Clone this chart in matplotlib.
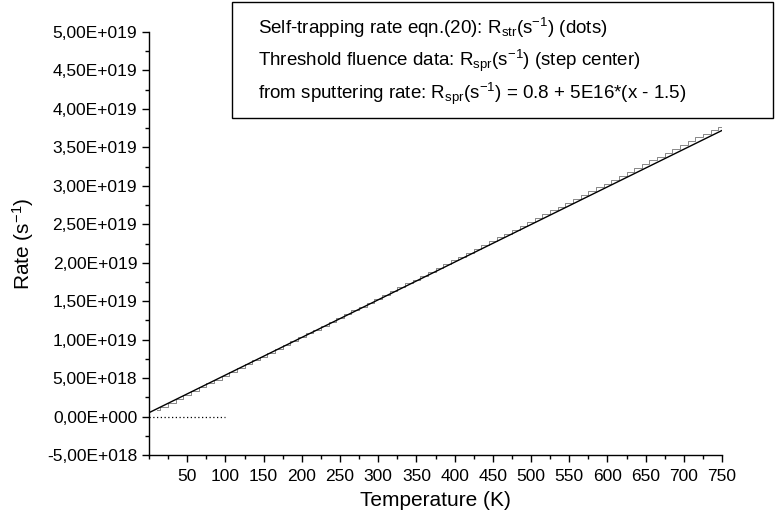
import matplotlib
matplotlib.use("Agg")
import matplotlib.pyplot as plt
from matplotlib.ticker import FuncFormatter, MultipleLocator
from matplotlib.patches import Rectangle

plt.rcParams['font.family'] = ['Liberation Sans', 'DejaVu Sans']
plt.rcParams['mathtext.fontset'] = 'custom'
plt.rcParams['mathtext.rm'] = 'Liberation Sans'
plt.rcParams['mathtext.it'] = 'Liberation Sans:italic'
plt.rcParams['mathtext.bf'] = 'Liberation Sans:bold'

# Fit line (from sputtering rate)
fit_T = [0, 750]
fit_R = [5.0e17, 3.72e19]

# Threshold fluence data, step centers (units of 1e17 s^-1)
step_T = [10, 20, 30, 40, 50, 60, 70, 80, 90, 100, 110, 120, 130, 140, 150,
          160, 170, 180, 190, 200, 210, 220, 230, 240, 250, 260, 270, 280, 290, 300,
          310, 320, 330, 340, 350, 360, 370, 380, 390, 400, 410, 420, 430, 440, 450,
          460, 470, 480, 490, 500, 510, 520, 530, 540, 550, 560, 570, 580, 590, 600,
          610, 620, 630, 640, 650, 660, 670, 680, 690, 700, 710, 720, 730, 740, 750]
step_R17 = [8, 13, 18, 23, 28, 33, 38, 43, 48, 53, 58, 63, 68, 73, 78,
            83, 88, 93, 98, 103, 108, 113, 118, 123, 128, 133, 138, 143, 148, 153,
            158, 163, 168, 173, 178, 183, 188, 193, 198, 203, 208, 213, 218, 223, 228,
            233, 238, 243, 248, 253, 258, 263, 268, 273, 278, 283, 288, 293, 298, 303,
            308, 313, 318, 323, 328, 333, 338, 343, 348, 353, 358, 363, 368, 373, 377]

# Self-trapping rate (dots)
dots_T = [0, 100]
dots_R = [0.0, 0.0]

x_ticks = [50, 100, 150, 200, 250, 300, 350, 400, 450, 500, 550, 600, 650, 700, 750]

fig = plt.figure(figsize=(7.76, 5.24), dpi=100)
ax = fig.add_axes([149/776, 1 - 455/524, (722 - 149)/776, (455 - 32)/524])

step_R = [v * 1e17 for v in step_R17]
ax.step(step_T, step_R, where='mid', color='#888888', lw=0.7)
ax.plot(fit_T, fit_R, color='black', lw=1.0)
ax.plot(dots_T, dots_R, color='black', lw=0.9, linestyle=(0, (1, 2)))

ax.set_xlim(0, 750)
ax.set_ylim(-5e18, 5e19)
ax.set_xticks(x_ticks)
ax.xaxis.set_minor_locator(MultipleLocator(25))
ax.yaxis.set_major_locator(MultipleLocator(5e18))
ax.yaxis.set_minor_locator(MultipleLocator(2.5e18))

def fmt(v, pos):
    if abs(v) < 1e-3:
        return "0,00E+000"
    s = "%.2E" % v
    mant, exp = s.split("E")
    sign = exp[0]
    e = int(exp[1:])
    return "%sE%s%03d" % (mant.replace('.', ','), sign, e)

ax.yaxis.set_major_formatter(FuncFormatter(fmt))

for sp in ['top', 'right']:
    ax.spines[sp].set_visible(False)
for sp in ['left', 'bottom']:
    ax.spines[sp].set_linewidth(1.0)
ax.tick_params(axis='both', which='major', direction='out', length=5, width=1.0, labelsize=12.5)
ax.tick_params(axis='x', which='major', pad=5)
ax.tick_params(axis='both', which='minor', direction='out', length=3, width=1.0)

ax.set_xlabel("Temperature (K)", fontsize=15, labelpad=5)
ax.set_ylabel(r"Rate (s$^{-1}$)", fontsize=15, labelpad=8)

# legend box
fig.patches.append(Rectangle((232/776, 1 - 118/524), (773 - 232)/776, (118 - 2)/524,
                             transform=fig.transFigure, fill=False, edgecolor='black', lw=1.0))
lines = [r"Self-trapping rate eqn.(20): R$_{\rm str}$(s$^{-1}$) (dots)",
         r"Threshold fluence data: R$_{\rm spr}$(s$^{-1}$) (step center)",
         r"from sputtering rate: R$_{\rm spr}$(s$^{-1}$) = 0.8 + 5E16*(x - 1.5)"]
for i, t in enumerate(lines):
    fig.text(258/776, 1 - (28 + i * 33)/524, t, fontsize=13.5, va='center', ha='left')

fig.savefig("out.png", dpi=100)
